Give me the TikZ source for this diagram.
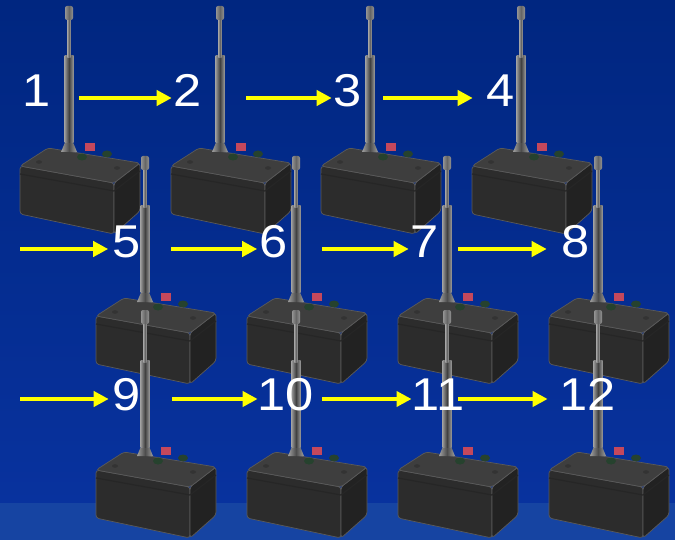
\documentclass[tikz,border=0pt]{standalone}
\usepackage{fontspec}
\setmainfont{Liberation Sans}[FakeStretch=1.1]
\usetikzlibrary{arrows.meta}
\definecolor{bgtop}{RGB}{0,38,128}
\definecolor{bgmid}{RGB}{8,50,158}
\definecolor{bgband}{RGB}{22,68,162}
\definecolor{boxfront}{RGB}{44,44,44}
\definecolor{boxtop}{RGB}{62,62,62}
\definecolor{boxside}{RGB}{34,34,34}
\definecolor{boxedge}{RGB}{90,90,90}
\definecolor{btnred}{RGB}{196,72,92}
\definecolor{btngreen}{RGB}{38,66,46}
\definecolor{flowyellow}{RGB}{255,255,0}
\tikzset{
  radio/.pic={
    % box
    \begin{scope}[rounded corners=3pt,draw=boxedge,line width=0.7pt]
      \filldraw[fill=boxfront] (-49,160) -- (45,177) -- (45,228) -- (-49,208) -- cycle;
      \filldraw[fill=boxside] (45,177) -- (71,157) -- (71,205) -- (45,228) -- cycle;
      \filldraw[fill=boxtop] (-49,160) -- (-21,142) -- (71,157) -- (45,177) -- cycle;
    \end{scope}
    \draw[black!85,line width=1.2pt] (-49,168) -- (45,185) -- (71,165);
    \fill[black!80] (-30,156) ellipse (3 and 1.8) (48,162) ellipse (3 and 1.8);
    % antenna
    \shade[left color=gray!75,right color=gray!75,middle color=black!70]
      (-8,146) -- (-3,134) -- (3,134) -- (8,146) -- cycle;
    \shade[left color=gray!80,right color=gray!80,middle color=black!75]
      (-4.5,50) rectangle (4.5,137);
    \shade[left color=gray!80,right color=gray!80,middle color=black!60]
      (-1.6,13) rectangle (1.6,52);
    \shade[left color=gray!85,right color=gray!85,middle color=black!60,rounded corners=2pt]
      (-4,0) rectangle (4,14);
    % buttons
    \fill[btnred] (16,137) rectangle (26,145);
    \fill[btngreen] (13,151) ellipse (5 and 3.5) (38,148) ellipse (5 and 3.5);
  },
  num/.style={text=white,font=\fontsize{46}{46}\selectfont,anchor=base,inner sep=0pt},
  flow/.style={draw=flowyellow,line width=4.2pt,-{Triangle[length=15pt,width=15pt]},shorten >=2pt}
}
\begin{document}
\begin{tikzpicture}[x=1pt,y=-1pt]
  \useasboundingbox (0,0) rectangle (675,540);
  \shade[top color=bgtop,bottom color=bgmid] (0,0) rectangle (675,503);
  \fill[bgband] (0,503) rectangle (675,540);
  % radios, row by row
  \pic (r1) at (69,6) {radio};
  \pic (r2) at (220,6) {radio};
  \pic (r3) at (370,6) {radio};
  \pic (r4) at (521,6) {radio};
  \pic (r5) at (145,156) {radio};
  \pic (r6) at (296,156) {radio};
  \pic (r7) at (447,156) {radio};
  \pic (r8) at (598,156) {radio};
  \pic (r9) at (145,310) {radio};
  \pic (r10) at (296,310) {radio};
  \pic (r11) at (447,310) {radio};
  \pic (r12) at (598,310) {radio};
  % numbers
  \node[num] (n1) at (37,107) {1};
  \node[num] (n2) at (188,107) {2};
  \node[num] (n3) at (348,107) {3};
  \node[num] (n4) at (501,107) {4};
  \node[num] (n5) at (126.5,258) {5};
  \node[num] (n6) at (273.5,258) {6};
  \node[num] (n7) at (425,258) {7};
  \node[num] (n8) at (576,258) {8};
  \node[num] (n9) at (127,410) {9};
  \node[num] (n10) at (286,410) {10};
  \node[num] (n11) at (438,410) {11};
  \node[num] (n12) at (588,410) {12};
  % arrow tails
  \coordinate (t2) at (79,98);
  \coordinate (t3) at (246,98);
  \coordinate (t4) at (383,98);
  \coordinate (t5) at (20,249);
  \coordinate (t6) at (171,249);
  \coordinate (t7) at (322,249);
  \coordinate (t8) at (458,249);
  \coordinate (t9) at (20,399);
  \coordinate (t10) at (172,399);
  \coordinate (t11) at (322,399);
  \coordinate (t12) at (458,399);
  \draw[flow] (t2) -- (t2 -| n2.west);
  \draw[flow] (t3) -- (t3 -| n3.west);
  \draw[flow,shorten >=14pt] (t4) -- (t4 -| n4.west);
  \draw[flow,shorten >=4pt] (t5) -- (t5 -| n5.west);
  \draw[flow] (t6) -- (t6 -| n6.west);
  \draw[flow] (t7) -- (t7 -| n7.west);
  \draw[flow,shorten >=15pt] (t8) -- (t8 -| n8.west);
  \draw[flow,shorten >=4pt] (t9) -- (t9 -| n9.west);
  \draw[flow,shorten >=0pt] (t10) -- (t10 -| n10.west);
  \draw[flow,shorten >=0pt] (t11) -- (t11 -| n11.west);
  \draw[flow,shorten >=12pt] (t12) -- (t12 -| n12.west);
\end{tikzpicture}
\end{document}
